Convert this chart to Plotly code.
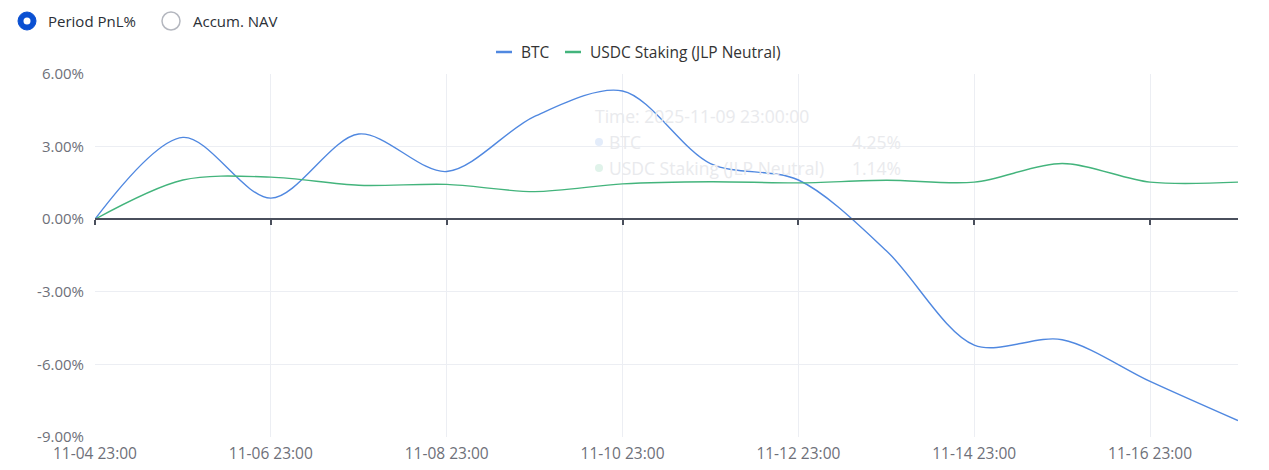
import plotly.graph_objects as go

dates = ["2025-11-04 23:00", "2025-11-05 23:00", "2025-11-06 23:00", "2025-11-07 23:00",
         "2025-11-08 23:00", "2025-11-09 23:00", "2025-11-10 23:00", "2025-11-11 23:00",
         "2025-11-12 23:00", "2025-11-13 23:00", "2025-11-14 23:00", "2025-11-15 23:00",
         "2025-11-16 23:00", "2025-11-17 23:00"]
btc = [0.0, 3.38, 0.87, 3.52, 1.97, 4.25, 5.30, 2.30, 1.62, -1.30, -5.20, -4.98, -6.70, -8.32]
usdc = [0.0, 1.62, 1.74, 1.40, 1.44, 1.14, 1.46, 1.55, 1.50, 1.61, 1.53, 2.30, 1.53, 1.53]
tick_vals = ["2025-11-04 23:00", "2025-11-06 23:00", "2025-11-08 23:00", "2025-11-10 23:00",
             "2025-11-12 23:00", "2025-11-14 23:00", "2025-11-16 23:00"]
tick_text = ["11-04 23:00", "11-06 23:00", "11-08 23:00", "11-10 23:00",
             "11-12 23:00", "11-14 23:00", "11-16 23:00"]
y_ticks = [-9, -6, -3, 0, 3, 6]
y_tick_text = ["-9.00%", "-6.00%", "-3.00%", "0.00%", "3.00%", "6.00%"]
series_names = ["BTC", "USDC Staking (JLP Neutral)"]

BTC_COLOR = "#5088e0"
USDC_COLOR = "#43b47c"
FONT = "Open Sans, Noto Sans, sans-serif"
# page body adds an 8px offset; the figure is sized to fill the rest of the window
OFF = 8
W, H = 1269 - OFF, 470 - OFF
PL, PR, PT, PB = 95, 1238, 74, 437  # plot area in window pixels


def px_x(p):
    return (p - PL) / (PR - PL)


def px_y(p):
    return (PB - p) / (PB - PT)


fig = go.Figure()
fig.add_trace(go.Scatter(x=dates, y=btc, name=series_names[0], mode="lines",
                         line=dict(color=BTC_COLOR, width=1.4, shape="spline", smoothing=0.9)))
fig.add_trace(go.Scatter(x=dates, y=usdc, name=series_names[1], mode="lines",
                         line=dict(color=USDC_COLOR, width=1.4, shape="spline", smoothing=0.9)))
# invisible trace hosting the axis line drawn at y = 0
fig.add_trace(go.Scatter(x=dates, y=btc, xaxis="x2", mode="lines", showlegend=False,
                         hoverinfo="skip", line=dict(width=0), opacity=0))

xr = [dates[0], dates[-1]]
fig.update_layout(
    width=W, height=H,
    margin=dict(l=PL - OFF, r=1269 - PR, t=PT - OFF, b=470 - PB, autoexpand=False),
    paper_bgcolor="white", plot_bgcolor="white",
    font=dict(family=FONT, size=15, color="#6e7079"),
    showlegend=False,
    xaxis=dict(type="date", range=xr, tickvals=tick_vals, ticktext=tick_text,
               showgrid=True, gridcolor="#eceef3", gridwidth=1, zeroline=False,
               showline=False, ticks="", ticklabelstandoff=5,
               tickfont=dict(size=15.5, color="#6e7079")),
    xaxis2=dict(type="date", range=xr, overlaying="x", anchor="free", position=0.6,
                tickvals=tick_vals, showticklabels=False, showgrid=False, zeroline=False,
                showline=True, linecolor="#4a4f5c", linewidth=1.5,
                ticks="outside", ticklen=5, tickcolor="#4a4f5c", tickwidth=1.5),
    yaxis=dict(range=[-9, 6], tickvals=y_ticks, ticktext=y_tick_text,
               showgrid=True, gridcolor="#eceef3", gridwidth=1, zeroline=False,
               showline=False, ticks="", ticklabelstandoff=10,
               tickfont=dict(size=15, color="#6e7079")),
    hovermode=False,
)

# legend (drawn manually for the short line samples)
for (x0, x1, tx), name, col in zip([(496, 512, 519), (565, 581, 588)], series_names,
                                   [BTC_COLOR, USDC_COLOR]):
    fig.add_shape(type="line", xref="paper", yref="paper",
                  x0=px_x(x0), x1=px_x(x1), y0=px_y(52), y1=px_y(52),
                  line=dict(color=col, width=2.5))
    fig.add_annotation(text=name, xref="paper", yref="paper", x=px_x(tx), y=px_y(52),
                       xanchor="left", yanchor="middle", showarrow=False,
                       font=dict(size=15.5, color="#333333", family=FONT))

# radio buttons (UI selector above chart)
fig.add_shape(type="circle", xref="paper", yref="paper",
              x0=px_x(18), x1=px_x(36), y0=px_y(30), y1=px_y(12),
              fillcolor="#0a50d2", line=dict(color="#0a50d2", width=1))
fig.add_shape(type="circle", xref="paper", yref="paper",
              x0=px_x(23.5), x1=px_x(30.5), y0=px_y(24.5), y1=px_y(17.5),
              fillcolor="white", line=dict(width=0))
fig.add_shape(type="circle", xref="paper", yref="paper",
              x0=px_x(162), x1=px_x(180), y0=px_y(30), y1=px_y(12),
              fillcolor="white", line=dict(color="#b4b7bf", width=1.5))
fig.add_annotation(text="Period PnL%", xref="paper", yref="paper", x=px_x(46), y=px_y(21),
                   xanchor="left", yanchor="middle", showarrow=False,
                   font=dict(size=15, color="#2b2f36", family=FONT))
fig.add_annotation(text="Accum. NAV", xref="paper", yref="paper", x=px_x(191), y=px_y(21),
                   xanchor="left", yanchor="middle", showarrow=False,
                   font=dict(size=15, color="#2b2f36", family=FONT))

# faded tooltip remnant
ghost = "#e9eaed"
fig.add_annotation(text="Time: 2025-11-09 23:00:00", xref="paper", yref="paper",
                   x=px_x(593), y=px_y(116), xanchor="left", yanchor="middle", showarrow=False,
                   font=dict(size=17.5, color=ghost, family=FONT))
fig.add_shape(type="circle", xref="paper", yref="paper",
              x0=px_x(595), x1=px_x(603), y0=px_y(146), y1=px_y(138),
              fillcolor="#e3ecfa", line=dict(width=0))
fig.add_shape(type="circle", xref="paper", yref="paper",
              x0=px_x(595), x1=px_x(603), y0=px_y(172), y1=px_y(164),
              fillcolor="#e0f3ea", line=dict(width=0))
fig.add_annotation(text="BTC", xref="paper", yref="paper", x=px_x(607), y=px_y(142),
                   xanchor="left", yanchor="middle", showarrow=False,
                   font=dict(size=17.5, color=ghost, family=FONT))
fig.add_annotation(text="USDC Staking (JLP Neutral)", xref="paper", yref="paper",
                   x=px_x(607), y=px_y(168), xanchor="left", yanchor="middle", showarrow=False,
                   font=dict(size=17.5, color=ghost, family=FONT))
fig.add_annotation(text="4.25%", xref="paper", yref="paper", x=px_x(903), y=px_y(142),
                   xanchor="right", yanchor="middle", showarrow=False,
                   font=dict(size=17.5, color=ghost, family=FONT))
fig.add_annotation(text="1.14%", xref="paper", yref="paper", x=px_x(903), y=px_y(168),
                   xanchor="right", yanchor="middle", showarrow=False,
                   font=dict(size=17.5, color=ghost, family=FONT))

fig.write_html("out.html")
